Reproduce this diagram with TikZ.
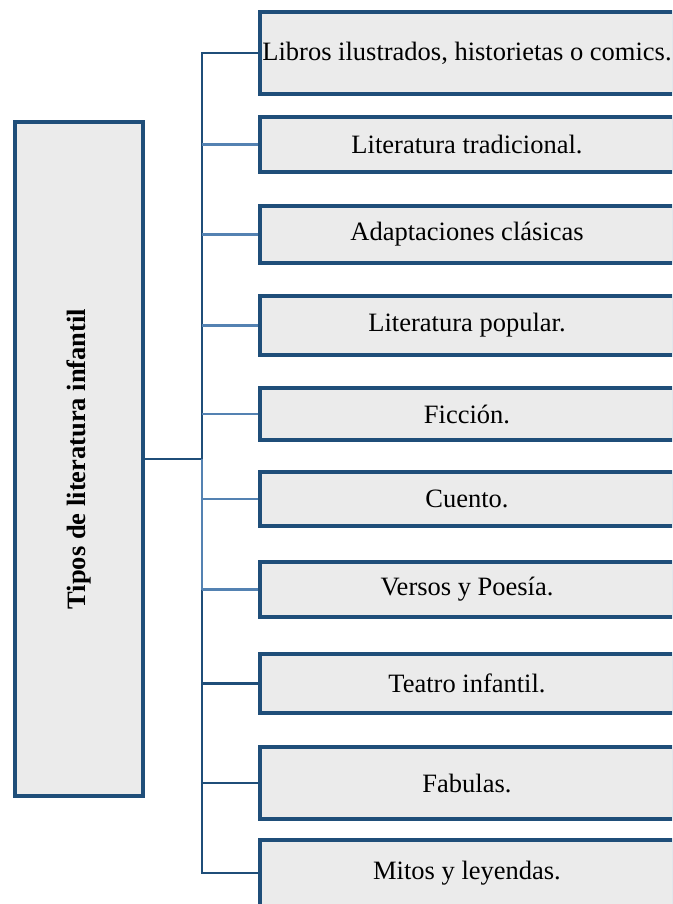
\documentclass[tikz,border=0pt]{standalone}
\usepackage{fontspec}
\setmainfont{Liberation Serif}
\usepackage{tikz}
\usetikzlibrary{positioning,calc}
\definecolor{azul}{RGB}{31,78,121}
\definecolor{celeste}{RGB}{84,130,178}
\definecolor{gris}{RGB}{235,235,235}
\tikzset{
  caja/.style={draw=azul,fill=gris,line width=4pt,align=center,inner sep=1pt,
    font=\fontsize{26.5}{31}\selectfont},
  tipo/.style={caja,minimum width=414pt},
  raiz/.style={caja,minimum width=128pt,minimum height=674pt},
  osc/.style={draw=azul,line width=2.8pt},
  cla/.style={draw=celeste,line width=2.6pt},
  fino/.style={draw=azul,line width=1.4pt},
}
\begin{document}
\begin{tikzpicture}[x=1pt,y=-1pt]
  \useasboundingbox (0,0) rectangle (672,904);
  \clip (0,0) rectangle (672,904);
  \coordinate (tr) at (202,0);
  \node[raiz] (root) at (79,459) {\rotatebox{90}{\bfseries Tipos de literatura infantil}};
  \node[tipo,minimum height=82pt] (b1) at (467,53) {Libros ilustrados, historietas o comics.};
  \node[tipo,minimum height=55pt] (b2) at (467,144.5) {Literatura tradicional.};
  \node[tipo,minimum height=57pt] (b3) at (467,234.5) {Adaptaciones clásicas};
  \node[tipo,minimum height=59pt] (b4) at (467,325.5) {Literatura popular.};
  \node[tipo,minimum height=52pt] (b5) at (467,414) {Ficción.};
  \node[tipo,minimum height=54pt] (b6) at (467,499) {Cuento.};
  \node[tipo,minimum height=55pt] (b7) at (467,589.5) {Versos y Poesía.};
  \node[tipo,minimum height=59pt] (b8) at (467,683.5) {Teatro infantil.};
  \node[tipo,minimum height=72pt] (b9) at (467,783) {Fabulas.};
  \node[tipo,minimum height=66pt] (b10) at (467,873) {Mitos y leyendas.};
  % tronco
  \draw[osc] (root.east) -- (root.east -| tr);
  \draw[osc] (b1.west) -- (b1.west -| tr) -- (root.east -| tr);
  \draw[cla] (root.east -| tr) -- (b7.west -| tr);
  \draw[osc] (b7.west -| tr) -- (b9.west -| tr);
  \draw[fino] (b9.west -| tr) -- (b10.west -| tr) -- (b10.west);
  % ramas
  \draw[cla] (b2.west -| tr) -- (b2.west);
  \draw[cla] (b3.west -| tr) -- (b3.west);
  \draw[cla] (b4.west -| tr) -- (b4.west);
  \draw[cla] (b5.west -| tr) -- (b5.west);
  \draw[cla] (b6.west -| tr) -- (b6.west);
  \draw[cla] (b7.west -| tr) -- (b7.west);
  \draw[osc] (b8.west -| tr) -- (b8.west);
  \draw[osc] (b9.west -| tr) -- (b9.west);
\end{tikzpicture}
\end{document}
